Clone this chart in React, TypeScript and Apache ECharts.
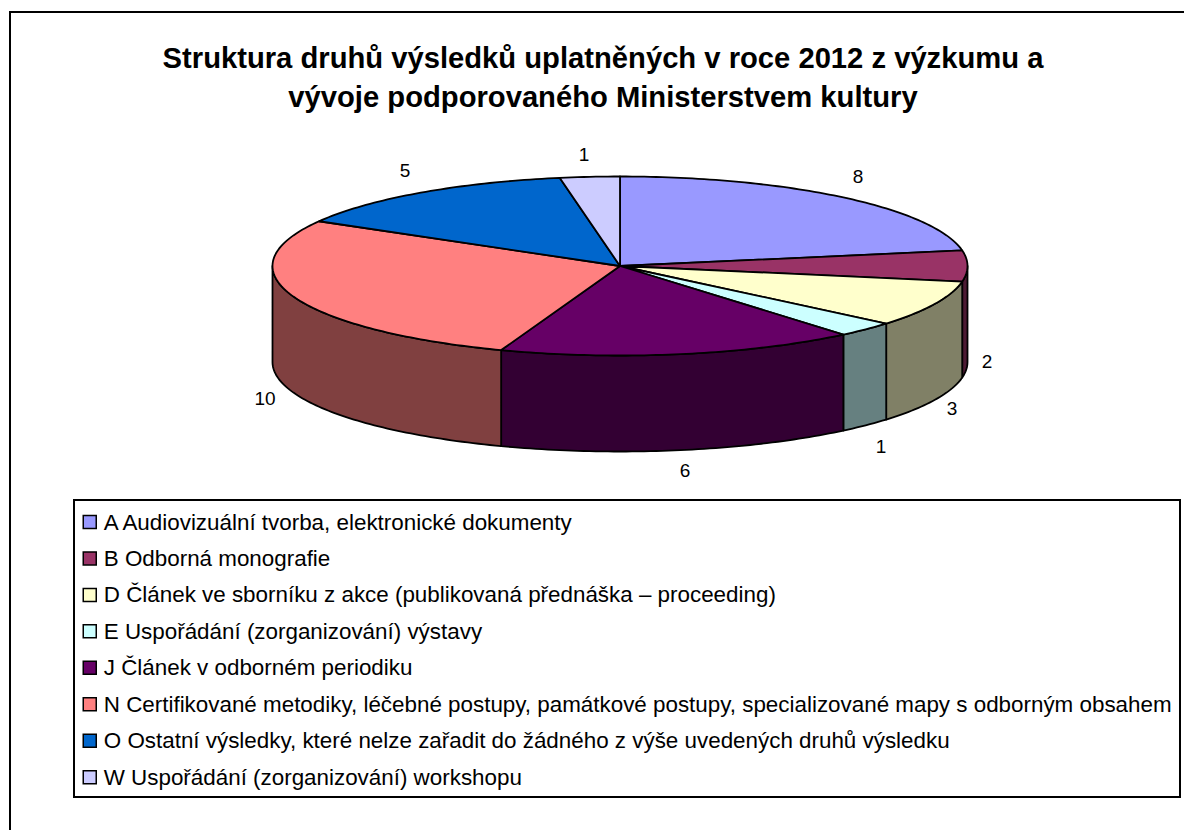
import React, { useEffect, useRef } from "react";
import * as echarts from "echarts";

const titleLines = [
  "Struktura druhů výsledků uplatněných v roce 2012 z výzkumu a",
  "vývoje podporovaného Ministerstvem kultury",
];
const categories = [
  "A Audiovizuální tvorba, elektronické dokumenty",
  "B Odborná monografie",
  "D Článek ve sborníku z akce (publikovaná přednáška – proceeding)",
  "E Uspořádání (zorganizování) výstavy",
  "J Článek v odborném periodiku",
  "N Certifikované metodiky, léčebné postupy, památkové postupy, specializované mapy s odborným obsahem",
  "O Ostatní výsledky, které nelze zařadit do žádného z výše uvedených druhů výsledku",
  "W Uspořádání (zorganizování) workshopu",
];
const values = [8, 2, 3, 1, 6, 10, 5, 1];
const topColors = ["#9999FF", "#993366", "#FFFFCC", "#CCFFFF", "#660066", "#FF8080", "#0066CC", "#CCCCFF"];
const sideColors = ["#4D4D80", "#4D1A33", "#808066", "#668080", "#330033", "#804040", "#003366", "#666680"];
const labelPos = [[858, 176], [987, 361], [952, 408], [881, 446], [685, 470], [265, 398], [405, 170], [584, 154]];

const CX = 620, CY = 266, RX = 347.5, RY = 89.5, DEPTH = 96;
const FONT = '"Liberation Sans", Arial, sans-serif';
const total = values.reduce((a, b) => a + b, 0);

function pt(deg: number, dy = 0): number[] {
  const r = (deg * Math.PI) / 180;
  return [CX + RX * Math.sin(r), CY - RY * Math.cos(r) + dy];
}
function arc(a: number, b: number, dy = 0): number[][] {
  const n = Math.max(2, Math.ceil(Math.abs(b - a)));
  const out: number[][] = [];
  for (let i = 0; i <= n; i++) out.push(pt(a + ((b - a) * i) / n, dy));
  return out;
}

function makeSeries(idx: number, start: number, end: number) {
  return {
    type: "custom",
    name: categories[idx],
    coordinateSystem: "none",
    silent: true,
    itemStyle: { color: topColors[idx], borderColor: "#000", borderWidth: 1.5 },
    data: [values[idx]],
    renderItem: () => {
      const children: any[] = [];
      const s = Math.max(start, 90), e = Math.min(end, 270);
      if (e > s) {
        children.push({
          type: "polygon",
          shape: { points: [...arc(s, e), ...arc(e, s, DEPTH)] },
          style: { fill: sideColors[idx], stroke: "#000", lineWidth: 1.8, lineJoin: "round" },
        });
      }
      children.push({
        type: "polygon",
        shape: { points: [[CX, CY], ...arc(start, end)] },
        style: { fill: topColors[idx], stroke: "#000", lineWidth: 1.8, lineJoin: "round" },
      });
      children.push({
        type: "text",
        x: labelPos[idx][0],
        y: labelPos[idx][1],
        style: { text: String(values[idx]), fill: "#000", font: `19px ${FONT}`, align: "center", verticalAlign: "middle" },
      });
      return { type: "group", children };
    },
  };
}

export default function App() {
  const ref = useRef<HTMLDivElement>(null);
  useEffect(() => {
    const chart = echarts.init(ref.current!, null, { renderer: "svg" });
    let acc = 0;
    const series = values.map((v, i) => {
      const s = (acc / total) * 360;
      acc += v;
      return makeSeries(i, s, (acc / total) * 360);
    });
    chart.setOption({
      animation: false,
      backgroundColor: "#fff",
      graphic: [
        { type: "rect", z: -10, shape: { x: 10, y: 12, width: 1300, height: 900 }, style: { fill: "#fff", stroke: "#000", lineWidth: 2 } },
        { type: "rect", z: -5, shape: { x: 74, y: 500, width: 1106, height: 297 }, style: { fill: "#fff", stroke: "#000", lineWidth: 2 } },
        { type: "text", x: 603, y: 58, style: { text: titleLines[0], fill: "#000", font: `bold 29.2px ${FONT}`, align: "center", verticalAlign: "middle" } },
        { type: "text", x: 603, y: 97, style: { text: titleLines[1], fill: "#000", font: `bold 29.2px ${FONT}`, align: "center", verticalAlign: "middle" } },
      ],
      legend: {
        orient: "vertical",
        left: 82.5,
        top: 511,
        padding: 0,
        itemWidth: 13,
        itemHeight: 13,
        itemGap: 14.45,
        icon: "rect",
        selectedMode: false,
        itemStyle: { borderColor: "#000", borderWidth: 1.5 },
        textStyle: { fontFamily: FONT, fontSize: 22.4, color: "#000", padding: [0, 0, 0, 2.5] },
        data: categories,
      },
      series,
    });
    return () => chart.dispose();
  }, []);
  return <div ref={ref} style={{ width: 1184, height: 830, position: "absolute", left: 0, top: 0 }} />;
}
